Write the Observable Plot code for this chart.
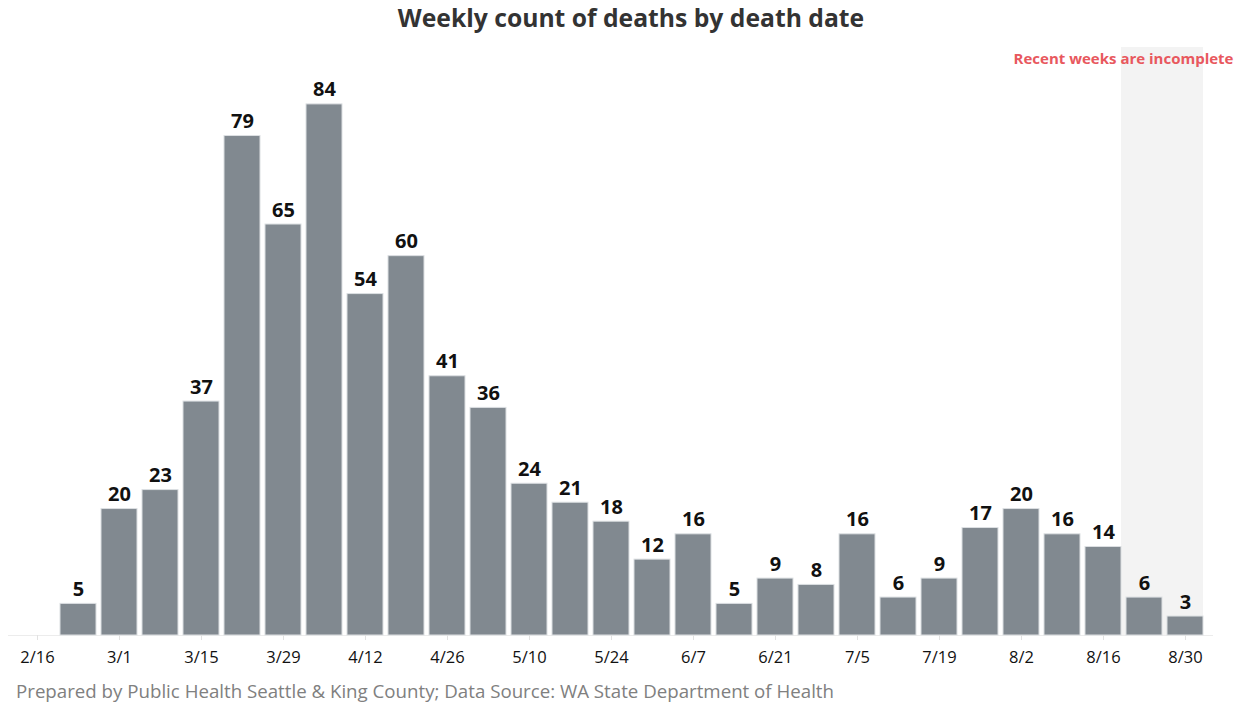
<!DOCTYPE html>
<html>
<head>
<meta charset="utf-8">
<script src="https://cdn.jsdelivr.net/npm/d3@7"></script>
<script src="https://cdn.jsdelivr.net/npm/@observablehq/plot@0.6"></script>
<style>
  body { margin: 0; background: #fff; font-family: "Open Sans", sans-serif; }
  #wrap { width: 1238px; }
  #title { height: 40px; line-height: 36px; text-align: center; font-weight: 700; font-size: 24.7px; color: #333; padding-left: 24px; }
  #caption { padding-left: 16px; font-size: 18.7px; color: #808080; line-height: 24px; margin-top: 9px; }
  svg { display: block; }
</style>
</head>
<body>
<div id="wrap">
  <div id="title">Weekly count of deaths by death date</div>
  <div id="chart"></div>
  <div id="caption">Prepared by Public Health Seattle &amp; King County; Data Source: WA State Department of Health</div>
</div>
<script>
const weeks = ["2/16","2/23","3/1","3/8","3/15","3/22","3/29","4/5","4/12","4/19","4/26","5/3","5/10","5/17","5/24","5/31","6/7","6/14","6/21","6/28","7/5","7/12","7/19","7/26","8/2","8/9","8/16","8/23","8/30"];
const deaths = [null,5,20,23,37,79,65,84,54,60,41,36,24,21,18,12,16,5,9,8,16,6,9,17,20,16,14,6,3];
const tickLabels = ["2/16","3/1","3/15","3/29","4/12","4/26","5/10","5/24","6/7","6/21","7/5","7/19","8/2","8/16","8/30"];
const incompleteWeeks = ["8/23","8/30"];
const noteText = "Recent weeks are incomplete";

const data = weeks.map((w, i) => ({week: w, value: deaths[i]}));
const bars = data.filter(d => d.value != null);
const yMax = 93;

const chart = Plot.plot({
  width: 1238,
  height: 630,
  marginLeft: 8,
  marginRight: 25,
  marginTop: 7,
  marginBottom: 35,
  style: {fontFamily: "Open Sans, sans-serif", background: "#fff"},
  x: {domain: weeks, padding: 0.13, label: null},
  y: {domain: [0, yMax], axis: null},
  marks: [
    Plot.barY(incompleteWeeks.map(w => ({week: w, value: yMax})), {x: "week", y: "value", fill: "#f3f3f3", insetLeft: -5, insetRight: 0}),
    Plot.ruleY([0], {stroke: "#ececec"}),
    Plot.barY(bars, {x: "week", y: "value", fill: "#818990", stroke: "#dcdfe2", strokeWidth: 1}),
    Plot.text(bars, {x: "week", y: "value", text: d => String(d.value), lineAnchor: "bottom", dy: -8, fontSize: 20, fontWeight: 700, fill: "#111"}),
    Plot.axisX({ticks: tickLabels, tickSize: 5, stroke: "#e2e2e2", tickPadding: 11, fontSize: 16.5, fill: "#111", label: null}),
    Plot.text([noteText], {frameAnchor: "top-right", dx: 20, dy: 6, text: d => d, fontSize: 15, fontWeight: 700, fill: "#e8585e", textAnchor: "end"})
  ]
});
document.getElementById("chart").appendChild(chart);
</script>
</body>
</html>
